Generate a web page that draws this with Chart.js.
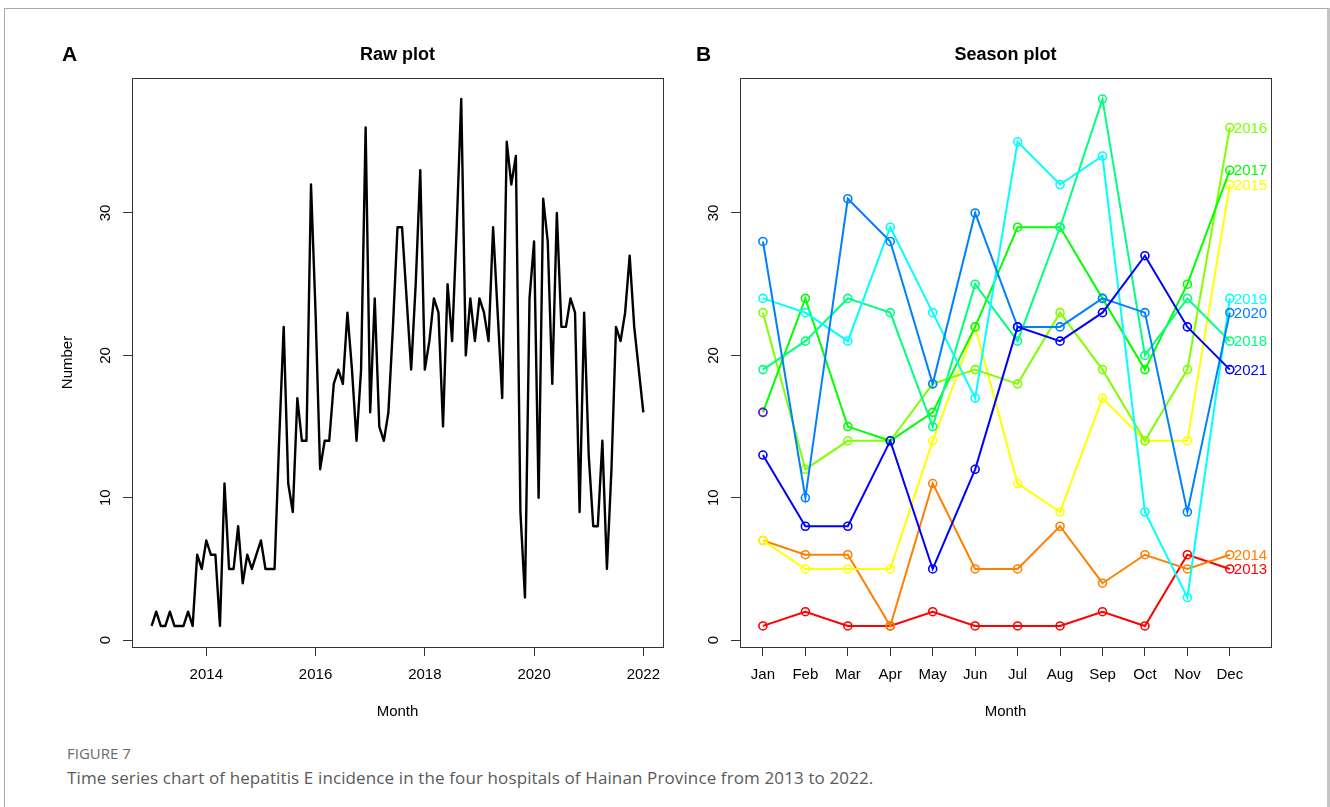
<!DOCTYPE html>
<html>
<head>
<meta charset="utf-8">
<script src="https://cdn.jsdelivr.net/npm/chart.js@4.4.1/dist/chart.umd.min.js"></script>
<style>
html, body { margin: 0; padding: 0; background: #fff; width: 1330px; height: 807px; overflow: hidden; }
#frame { position: absolute; left: 4px; top: 8px; width: 1326px; height: 900px; box-sizing: border-box;
         border: 1px solid #a8a8a8; border-right: 3px solid #c4c4c4; }
canvas { position: absolute; top: 0; }
#rawChart { left: 0; }
#seasonChart { left: 680px; }
.panel { position: absolute; top: 42px; font: bold 21px "Liberation Sans", Arial, sans-serif; color: #000; }
.fig { position: absolute; left: 67px; top: 743px; font: 15px "Open Sans", sans-serif; color: #6a6a6a; }
.cap { position: absolute; left: 67px; top: 766px; font: 17px "Open Sans", sans-serif; color: #5a5a5a; letter-spacing: 0.12px; }
</style>
</head>
<body>
<div id="frame"></div>
<canvas id="rawChart" width="680" height="740"></canvas>
<canvas id="seasonChart" width="650" height="740"></canvas>
<div class="panel" style="left:62px">A</div>
<div class="panel" style="left:696px">B</div>
<div class="fig">FIGURE 7</div>
<div class="cap">Time series chart of hepatitis E incidence in the four hospitals of Hainan Province from 2013 to 2022.</div>
<script>
// Monthly hepatitis E counts, one array per year (Jan..Dec)
const years = [2013, 2014, 2015, 2016, 2017, 2018, 2019, 2020, 2021, 2022];
const y2013 = [1, 2, 1, 1, 2, 1, 1, 1, 2, 1, 6, 5];
const y2014 = [7, 6, 6, 1, 11, 5, 5, 8, 4, 6, 5, 6];
const y2015 = [7, 5, 5, 5, 14, 22, 11, 9, 17, 14, 14, 32];
const y2016 = [23, 12, 14, 14, 18, 19, 18, 23, 19, 14, 19, 36];
const y2017 = [16, 24, 15, 14, 16, 22, 29, 29, 24, 19, 25, 33];
const y2018 = [19, 21, 24, 23, 15, 25, 21, 29, 38, 20, 24, 21];
const y2019 = [24, 23, 21, 29, 23, 17, 35, 32, 34, 9, 3, 24];
const y2020 = [28, 10, 31, 28, 18, 30, 22, 22, 24, 23, 9, 23];
const y2021 = [13, 8, 8, 14, 5, 12, 22, 21, 23, 27, 22, 19];
const y2022 = [16];
const yearValues = [y2013, y2014, y2015, y2016, y2017, y2018, y2019, y2020, y2021, y2022];
const yearColors = ['#FF0000', '#FF8000', '#FFFF00', '#80FF00', '#00FF00',
                    '#00FF80', '#00FFFF', '#0080FF', '#0000FF', '#8000FF'];

const months = ['Jan', 'Feb', 'Mar', 'Apr', 'May', 'Jun', 'Jul', 'Aug', 'Sep', 'Oct', 'Nov', 'Dec'];
const rawXTicks = [2014, 2016, 2018, 2020, 2022];
const yTicks = [0, 10, 20, 30];

const FONT = '"Liberation Sans", Arial, sans-serif';

// R-style frame, tick labels and titles drawn around the chart area
const rStyle = {
    id: 'rStyle',
    afterDraw(chart, args, opts) {
        const { ctx, chartArea: a } = chart;
        const x = chart.scales.x, y = chart.scales.y;
        ctx.save();
        ctx.strokeStyle = '#333';
        ctx.lineWidth = 1;
        ctx.strokeRect(a.left + 0.5, a.top + 0.5, a.right - a.left, a.bottom - a.top);

        ctx.fillStyle = '#000';
        ctx.font = '15px ' + FONT;
        ctx.textAlign = 'center';
        ctx.textBaseline = 'middle';
        x.ticks.forEach((t, i) => {
            ctx.fillText(opts.xLabels[i], x.getPixelForValue(t.value), a.bottom + 28);
        });
        y.ticks.forEach(t => {
            ctx.save();
            ctx.translate(a.left - 26, y.getPixelForValue(t.value));
            ctx.rotate(-Math.PI / 2);
            ctx.fillText(String(t.value), 0, 0);
            ctx.restore();
        });
        const cx = (a.left + a.right) / 2;
        ctx.fillText('Month', cx, a.bottom + 65);
        if (opts.yTitle) {
            ctx.save();
            ctx.translate(a.left - 64, (a.top + a.bottom) / 2);
            ctx.rotate(-Math.PI / 2);
            ctx.fillText(opts.yTitle, 0, 0);
            ctx.restore();
        }
        ctx.font = 'bold 18px ' + FONT;
        ctx.fillText(opts.title, cx, a.top - 23);

        // year labels at the end of each season line
        if (opts.endLabels) {
            ctx.font = '15px ' + FONT;
            ctx.textAlign = 'left';
            chart.data.datasets.forEach(ds => {
                if (ds.data.length < 12) return;
                const last = ds.data[ds.data.length - 1];
                ctx.fillStyle = ds.borderColor;
                ctx.fillText(ds.label, x.getPixelForValue(last.x) + 4, y.getPixelForValue(last.y) + 1);
            });
        }
        ctx.restore();
    }
};

function axis(min, max, ticks, fitSize) {
    return {
        type: 'linear',
        min: min,
        max: max,
        afterBuildTicks: s => { s.ticks = ticks.map(v => ({ value: v })); },
        afterFit: s => { if (s.isHorizontal()) s.height = fitSize; else s.width = fitSize; },
        grid: { drawOnChartArea: false, drawTicks: true, tickLength: 9, color: '#333', lineWidth: 1 },
        border: { display: false },
        ticks: { display: false }
    };
}

// Panel A: raw monthly series
const rawValues = [].concat(...yearValues);
const rawPoints = rawValues.map((v, i) => ({ x: 2013 + i / 12, y: v }));

new Chart(document.getElementById('rawChart'), {
    type: 'line',
    data: {
        datasets: [{
            data: rawPoints,
            borderColor: '#000',
            borderWidth: 2.4,
            borderJoinStyle: 'round',
            pointRadius: 0,
            tension: 0
        }]
    },
    options: {
        responsive: false,
        animation: false,
        devicePixelRatio: 1,
        layout: { padding: { left: 92, top: 78, right: 17, bottom: 53 } },
        plugins: {
            legend: { display: false },
            tooltip: { enabled: false },
            rStyle: { title: 'Raw plot', yTitle: 'Number', xLabels: rawXTicks.map(String) }
        },
        scales: {
            x: axis(2012.64, 2022.36, rawXTicks, 40),
            y: axis(-0.48, 39.48, yTicks, 40)
        }
    },
    plugins: [rStyle]
});

// Panel B: season plot, one line per year
const seasonSets = years.map((yr, i) => ({
    label: String(yr),
    data: yearValues[i].map((v, m) => ({ x: m + 1, y: v })),
    borderColor: yearColors[i],
    borderWidth: 2,
    pointStyle: 'circle',
    pointRadius: 4,
    pointBorderWidth: 1.6,
    pointBackgroundColor: 'rgba(0,0,0,0)',
    pointBorderColor: yearColors[i],
    tension: 0,
    order: years.length - i
}));

new Chart(document.getElementById('seasonChart'), {
    type: 'line',
    data: { datasets: seasonSets },
    options: {
        responsive: false,
        animation: false,
        devicePixelRatio: 1,
        layout: { padding: { left: 20, top: 78, right: 59, bottom: 53 } },
        plugins: {
            legend: { display: false },
            tooltip: { enabled: false },
            rStyle: { title: 'Season plot', xLabels: months, endLabels: true }
        },
        scales: {
            x: axis(0.46, 12.97, months.map((m, i) => i + 1), 40),
            y: axis(-0.48, 39.48, yTicks, 40)
        }
    },
    plugins: [rStyle]
});
</script>
</body>
</html>
